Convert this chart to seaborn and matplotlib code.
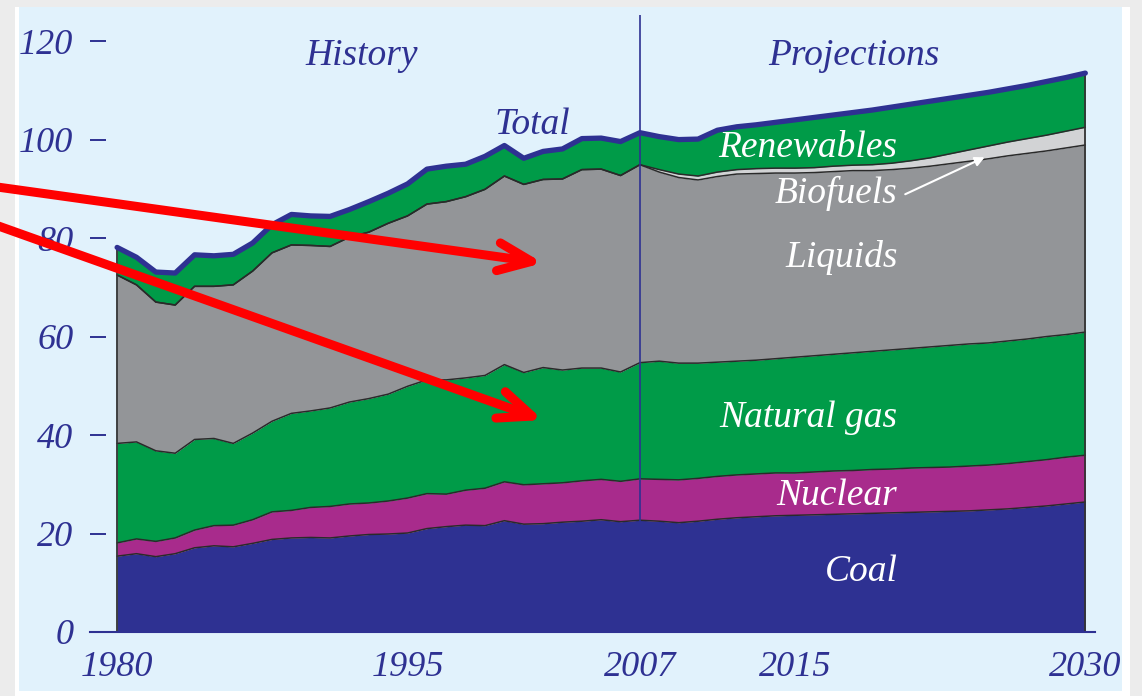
import matplotlib
matplotlib.use("Agg")
import matplotlib.pyplot as plt
import seaborn as sns
import numpy as np
import pandas as pd
from matplotlib.patches import Rectangle, FancyArrowPatch

# ---------------- data (quadrillion Btu) ----------------
years = list(range(1980, 2031))
coal = [15.4, 15.9, 15.3, 15.9, 17.1, 17.5, 17.3, 18.0, 18.8, 19.1, 19.2, 19.1, 19.5, 19.8,
        19.9, 20.1, 21.0, 21.4, 21.7, 21.6, 22.6, 21.9, 22.0, 22.3, 22.5, 22.8, 22.4, 22.7,
        22.5, 22.2, 22.5, 22.9, 23.2, 23.4, 23.6, 23.7, 23.8, 23.9, 24.0, 24.1, 24.2, 24.3,
        24.4, 24.5, 24.6, 24.8, 25.0, 25.3, 25.6, 26.0, 26.4]
nuclear = [2.7, 3.0, 3.1, 3.2, 3.6, 4.1, 4.4, 4.8, 5.6, 5.6, 6.1, 6.4, 6.5, 6.4,
           6.7, 7.1, 7.1, 6.6, 7.1, 7.6, 7.9, 8.0, 8.1, 8.0, 8.2, 8.2, 8.2, 8.4,
           8.5, 8.7, 8.7, 8.7, 8.7, 8.7, 8.7, 8.6, 8.7, 8.8, 8.8, 8.9, 8.9, 9.0,
           9.0, 9.0, 9.1, 9.1, 9.2, 9.3, 9.4, 9.5, 9.5]
natural_gas = [20.2, 19.7, 18.4, 17.2, 18.4, 17.7, 16.6, 17.6, 18.4, 19.7, 19.6, 20.0, 20.7, 21.2,
               21.7, 22.7, 23.1, 23.2, 22.8, 22.9, 23.8, 22.8, 23.6, 22.9, 22.9, 22.6, 22.2, 23.6,
               24.0, 23.7, 23.4, 23.2, 23.1, 23.1, 23.2, 23.5, 23.6, 23.7, 23.9, 24.0, 24.2, 24.3,
               24.5, 24.7, 24.8, 24.8, 24.9, 24.9, 25.0, 24.9, 25.0]
liquids = [34.2, 31.9, 30.2, 30.1, 31.1, 30.9, 32.2, 32.9, 34.2, 34.2, 33.6, 32.8, 33.5, 33.8,
           34.7, 34.6, 35.7, 36.2, 36.8, 37.8, 38.3, 38.2, 38.2, 38.8, 40.3, 40.4, 39.9, 40.2,
           38.4, 37.7, 37.2, 37.7, 38.0, 37.9, 37.7, 37.4, 37.2, 37.1, 37.0, 36.7, 36.6, 36.6,
           36.7, 36.9, 37.1, 37.4, 37.6, 37.7, 37.7, 37.9, 38.0]
biofuels = [0.0] * 28 + [0.5, 0.7, 0.8, 0.9, 0.9, 1.0, 1.0, 1.0, 1.0, 1.1, 1.1, 1.2, 1.3, 1.5,
                         1.7, 2.0, 2.3, 2.6, 2.8, 3.0, 3.2, 3.4, 3.6]
renewables = [5.6, 5.6, 6.1, 6.5, 6.4, 6.2, 6.2, 5.7, 5.7, 6.2, 6.0, 6.1, 5.6, 6.2,
              6.1, 6.5, 7.1, 7.2, 6.6, 6.7, 6.2, 5.3, 5.7, 6.1, 6.3, 6.3, 6.9, 6.5,
              6.7, 7.0, 7.5, 8.5, 8.7, 8.9, 9.3, 9.8, 10.2, 10.4, 10.7, 11.1, 11.4, 11.5,
              11.5, 11.3, 11.1, 10.9, 10.8, 10.8, 10.9, 10.9, 11.0]

series_names = ["Coal", "Nuclear", "Natural gas", "Liquids", "Biofuels", "Renewables"]
x_ticks = [1980, 1995, 2007, 2015, 2030]
y_ticks = [0, 20, 40, 60, 80, 100, 120]
divider_year = 2007

# ---------------- style ----------------
sns.set_theme(style="white")
plt.rcParams["font.family"] = ["Liberation Serif", "DejaVu Serif"]

BLUE = "#2e3192"
colors = {
    "Coal": "#2e3192",
    "Nuclear": "#a82b8c",
    "Natural gas": "#009b48",
    "Liquids": "#939598",
    "Biofuels": "#d2d3d5",
    "Renewables": "#009b48",
}

W, H = 1142, 696
fig = plt.figure(figsize=(W / 100, H / 100), dpi=100)
fig.patch.set_facecolor("#ececec")


def fx(px):
    return px / W


def fy(py):
    return 1 - py / H


fig.add_artist(Rectangle((fx(15), fy(696)), fx(1130) - fx(15), fy(7) - fy(696),
                         transform=fig.transFigure, facecolor="white", edgecolor="none", zorder=-3))
fig.add_artist(Rectangle((fx(19), fy(691)), fx(1122) - fx(19), fy(7) - fy(691),
                         transform=fig.transFigure, facecolor="#e1f2fc", edgecolor="none", zorder=-2))

ax = fig.add_axes([fx(90), fy(632), fx(1095) - fx(90), fy(15) - fy(632)])
ax.patch.set_alpha(0)

df = pd.DataFrame({"year": years, "Coal": coal, "Nuclear": nuclear, "Natural gas": natural_gas,
                   "Liquids": liquids, "Biofuels": biofuels, "Renewables": renewables})
stack = df[series_names].cumsum(axis=1)

bottom = np.zeros(len(df))
for name in series_names:
    top = stack[name].values
    ax.fill_between(df["year"], bottom, top, color=colors[name], lw=0, zorder=1)
    bottom = top

for name in series_names[:-1]:
    sns.lineplot(x=df["year"], y=stack[name], color="#2a2a2a", lw=1.1, ax=ax,
                 zorder=2, legend=False)

total = stack["Renewables"]
ax.vlines([years[0], years[-1]], 0, [total.iloc[0], total.iloc[-1]], color="#333333",
          lw=1.3, zorder=2)
sns.lineplot(x=df["year"], y=total, color=BLUE, lw=3.8, ax=ax, zorder=4, legend=False)
ax.axvline(divider_year, color=BLUE, lw=1.2, zorder=5)

# ---------------- axes ----------------
ax.set_xlim(1978.6, 2030.5)
ax.set_ylim(0, 125.3)
ax.set_xticks(x_ticks)
ax.set_yticks(y_ticks)
ax.set_xlabel("")
ax.set_ylabel("")
for s in ["left", "top", "right"]:
    ax.spines[s].set_visible(False)
ax.spines["bottom"].set_color(BLUE)
ax.spines["bottom"].set_linewidth(1.5)
ax.tick_params(axis="y", direction="in", length=11.5, width=1.4, color=BLUE, pad=12,
               labelsize=26, labelcolor=BLUE, left=True)
ax.tick_params(axis="x", length=0, pad=14, labelsize=26, labelcolor=BLUE)
for lbl in ax.get_xticklabels() + ax.get_yticklabels():
    lbl.set_fontstyle("italic")

# ---------------- labels ----------------
txt = dict(fontsize=27, fontstyle="italic")
ax.text(1989.7, 115.1, "History", color=BLUE, ha="left", va="baseline", **txt)
ax.text(2013.6, 115.1, "Projections", color=BLUE, ha="left", va="baseline", **txt)
ax.text(1999.5, 101.1, "Total", color=BLUE, ha="left", va="baseline", zorder=6, **txt)

label_x = 2020.3
for name, yb in [("Renewables", 96.4), ("Biofuels", 87.1), ("Liquids", 74.1),
                 ("Natural gas", 41.6), ("Nuclear", 25.8), ("Coal", 10.4)]:
    ax.text(label_x, yb, name, color="white", ha="right", va="baseline", zorder=6, **txt)

ax.annotate("", xy=(2024.8, 96.4), xytext=(2020.7, 88.9),
            arrowprops=dict(arrowstyle="-|>", color="white", lw=1.5, mutation_scale=14,
                            shrinkA=0, shrinkB=0), zorder=6)

# ---------------- red markup arrows ----------------
for start, end in [((-10, 186), (543, 263)), ((-10, 223), (543, 420))]:
    fig.add_artist(FancyArrowPatch((fx(start[0]), fy(start[1])), (fx(end[0]), fy(end[1])),
                                   transform=fig.transFigure,
                                   arrowstyle="->,head_length=1.0,head_width=0.42",
                                   mutation_scale=24, lw=6.5, color="#ff0000",
                                   shrinkA=0, shrinkB=0,
                                   capstyle="round", joinstyle="round", zorder=10))

fig.savefig("out.png", dpi=100, facecolor=fig.get_facecolor())
